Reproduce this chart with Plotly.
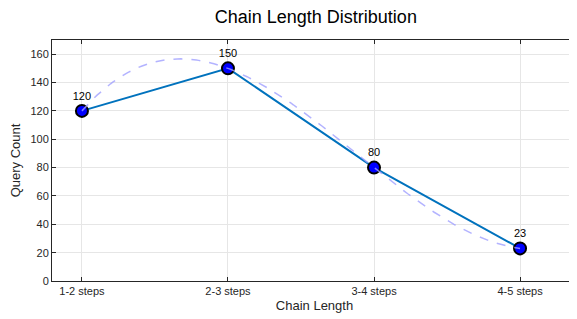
import numpy as np
import plotly.graph_objects as go

categories = ["1-2 steps", "2-3 steps", "3-4 steps", "4-5 steps"]
counts = [120, 150, 80, 23]
y_ticks = [0, 20, 40, 60, 80, 100, 120, 140, 160]

xi = np.arange(len(categories))
coef = np.polyfit(xi, counts, 3)
xs = np.linspace(0, len(categories) - 1, 200)
ys = np.polyval(coef, xs)

fig = go.Figure()
fig.add_trace(go.Scatter(
    x=xi, y=counts, mode="lines+markers+text",
    line=dict(color="#0072BD", width=2),
    marker=dict(size=12, color="#0000FF", line=dict(color="black", width=2)),
    text=[str(c) for c in counts], textposition="top center",
    textfont=dict(size=11, color="black"),
    cliponaxis=False, showlegend=False,
))
fig.add_trace(go.Scatter(
    x=xs, y=ys, mode="lines",
    line=dict(color="rgba(160,160,255,0.8)", width=1.5, dash="dash"),
    showlegend=False, hoverinfo="skip",
))

axis_common = dict(
    showline=True, linecolor="#262626", linewidth=1, mirror="allticks",
    ticks="inside", ticklen=4, tickcolor="#262626",
    showgrid=True, gridcolor="#e6e6e6", gridwidth=1, zeroline=False,
    tickfont=dict(size=11, color="#262626"), automargin=False,
)
fig.update_xaxes(**axis_common, range=[-0.205, 3.39], tickmode="array",
                 tickvals=list(xi), ticktext=categories,
                 title=dict(text="Chain Length", font=dict(size=13, color="#262626"), standoff=4))
fig.update_yaxes(**axis_common, range=[0, 170], tickmode="array", tickvals=y_ticks,
                 title=dict(text="Query Count", font=dict(size=13, color="#262626"), standoff=6))

# page body has an 8px margin, so the figure is sized to fit the remaining window
fig.update_layout(
    width=569, height=311,
    margin=dict(l=44, r=0, t=32, b=38),
    paper_bgcolor="white", plot_bgcolor="white",
    font=dict(family="Liberation Sans, Arial, sans-serif"),
    title=dict(text="Chain Length Distribution", x=0.541, xanchor="center", y=0.971, yanchor="middle",
               font=dict(size=18, color="black"), automargin=False),
)
fig.write_html("out.html")
